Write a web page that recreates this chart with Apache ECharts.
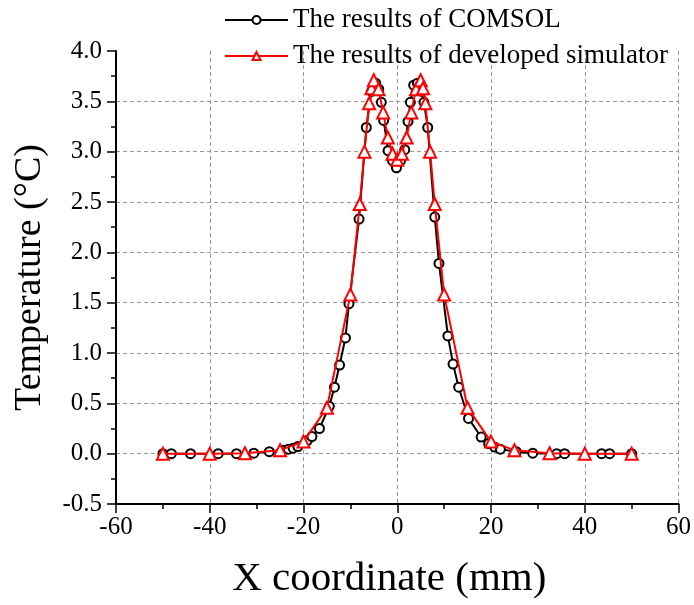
<!DOCTYPE html>
<html>
<head>
<meta charset="utf-8">
<script src="https://cdn.jsdelivr.net/npm/echarts@6/dist/echarts.min.js"></script>
<style>
html,body{margin:0;padding:0;background:#fff;}
#c{width:694px;height:605px;}
</style>
</head>
<body>
<div id="c"></div>
<script>
const comsolName = 'The results of COMSOL';
const simName = 'The results of developed simulator';

const comsolX = [-50,-48.2,-44.1,-38.2,-34.3,-30.6,-27.3,-24.3,-23.2,-22.2,-21.2,-19.2,-18.2,-16.6,-14.5,-13.4,-12.3,-11.05,-10.3,-8.15,-6.6,-5.5,-4.6,-3.95,-3.4,-2.9,-1.96,-1.0,-0.17,0.7,1.6,2.3,2.8,3.5,4.3,5.2,5.7,6.5,8.0,8.9,10.8,11.9,13.1,15.2,17.9,19.5,20.8,22.0,25.4,28.9,34.0,35.7,43.6,45.3,50];
const comsolT = [0,0,0,0,0,0.005,0.02,0.035,0.045,0.055,0.07,0.13,0.17,0.25,0.47,0.66,0.88,1.15,1.49,2.33,3.24,3.6,3.68,3.62,3.49,3.31,3.01,2.91,2.84,2.91,3.02,3.3,3.49,3.66,3.68,3.6,3.49,3.24,2.35,1.89,1.17,0.89,0.66,0.35,0.165,0.1,0.065,0.045,0.02,0.005,0,0,0,0,0];

const simX = [-50,-40,-32.5,-25,-20,-15,-10,-8,-7,-6,-5.5,-5,-4,-3,-2,-1,0,1,2,3,4,5,5.5,6,7,8,10,15,20,25,32.5,40,50];
const simT = [0,0,0.005,0.035,0.12,0.455,1.58,2.48,3.0,3.48,3.63,3.71,3.62,3.39,3.14,2.98,2.92,2.98,3.14,3.39,3.62,3.71,3.63,3.48,3.0,2.48,1.58,0.455,0.12,0.035,0.005,0,0];

const xMin = -60, xMax = 60, xStep = 20;
const yMin = -0.5, yMax = 4.0, yStep = 0.5;
const xTitle = 'X coordinate (mm)';
const yTitle = 'Temperature (\u00B0C)';

const serif = 'Liberation Serif';
const chart = echarts.init(document.getElementById('c'), null, {renderer:'canvas'});

const pairs = (xs, ys) => xs.map((x, i) => [x, ys[i]]);

chart.setOption({
  animation: false,
  backgroundColor: '#fff',
  legend: {
    orient: 'vertical',
    left: 219,
    top: 0,
    itemWidth: 63,
    itemHeight: 10,
    itemGap: 6,
    textStyle: {fontFamily: serif, fontSize: 27, color: '#000', lineHeight: 30},
    data: [comsolName, simName]
  },
  grid: {left: 116, right: 15, top: 51, bottom: 101, containLabel: false},
  xAxis: {
    type: 'value',
    min: xMin, max: xMax, interval: xStep,
    name: xTitle,
    nameLocation: 'middle',
    nameGap: 55,
    nameTextStyle: {fontFamily: serif, fontSize: 41, color: '#000', padding: [0, 16, 0, 0]},
    axisLine: {show: true, onZero: false, lineStyle: {color: '#000', width: 2}},
    axisTick: {show: true, inside: false, length: 9, lineStyle: {color: '#000', width: 1.5}},
    minorTick: {show: true, splitNumber: 2, length: 5, lineStyle: {color: '#000', width: 1.5}},
    axisLabel: {fontFamily: serif, fontSize: 25, color: '#000', margin: 11},
    splitLine: {show: true, showMinLine: false, showMaxLine: true, lineStyle: {color: '#999', type: [4, 3], width: 1}}
  },
  yAxis: {
    type: 'value',
    min: yMin, max: yMax, interval: yStep,
    name: yTitle,
    nameLocation: 'middle',
    nameGap: 67,
    nameRotate: 90,
    nameTextStyle: {fontFamily: serif, fontSize: 38, color: '#000'},
    axisLine: {show: true, onZero: false, lineStyle: {color: '#000', width: 2}},
    axisTick: {show: true, inside: false, length: 9, lineStyle: {color: '#000', width: 1.5}},
    minorTick: {show: true, splitNumber: 2, length: 5, lineStyle: {color: '#000', width: 1.5}},
    axisLabel: {fontFamily: serif, fontSize: 25, color: '#000', margin: 14, formatter: v => v.toFixed(1)},
    splitLine: {show: true, showMinLine: false, showMaxLine: false, lineStyle: {color: '#999', type: [4, 3], width: 1}}
  },
  series: [
    {
      name: comsolName,
      type: 'line',
      data: pairs(comsolX, comsolT),
      symbol: 'emptyCircle',
      symbolSize: 9,
      showAllSymbol: true,
      lineStyle: {color: '#000', width: 2},
      itemStyle: {color: '#000', borderColor: '#333', borderWidth: 1},
      z: 2
    },
    {
      name: simName,
      type: 'line',
      data: pairs(simX, simT),
      symbol: 'emptyTriangle',
      symbolSize: 12,
      showAllSymbol: true,
      lineStyle: {color: '#ff0000', width: 2},
      itemStyle: {color: '#ff0000', borderColor: '#ff0000', borderWidth: 1.2},
      z: 3
    }
  ]
});
</script>
</body>
</html>
